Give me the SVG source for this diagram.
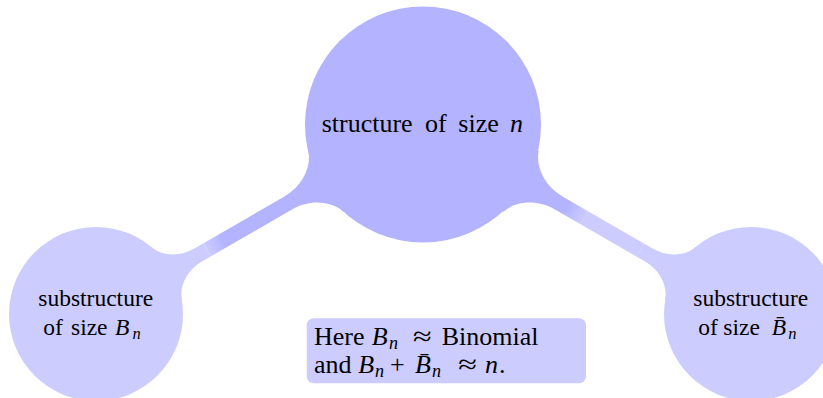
<svg xmlns="http://www.w3.org/2000/svg" width="823" height="398" viewBox="0 0 823 398">
<style>
.txt{font-family:"Liberation Serif","Times New Roman",serif;fill:#000}
.big{font-size:26px}
.mid{font-size:23.5px}
.sub{font-size:18px}
.subs{font-size:16.5px}
.it{font-style:italic}
.parent{fill:#b3b3ff}
.child{fill:#ccccff}
</style>
<defs>
<linearGradient id="gl" gradientUnits="userSpaceOnUse" x1="128" y1="0" x2="148" y2="0">
<stop offset="0" stop-color="#ccccff"/><stop offset="1" stop-color="#b3b3ff"/>
</linearGradient>
<linearGradient id="gr" gradientUnits="userSpaceOnUse" x1="192" y1="0" x2="214" y2="0">
<stop offset="0" stop-color="#ccccff"/><stop offset="1" stop-color="#b3b3ff"/>
</linearGradient>
</defs>
<rect width="823" height="398" fill="#fff"/>
<g id="connectors">
<g id="conn-left" transform="translate(96,314) rotate(-30)">
<path class="child" d="M60,-30 L81.7,-30 C86.5,-16.9 101,-7.5 118,-7.5 L128,-7.5 L128,7.5 L118,7.5 C101,7.5 86.5,16.9 81.7,30 L60,30 Z"/>
<path fill="url(#gl)" d="M128,-7.5 L222,-7.5 C244,-7.5 261,-21 265.3,-35 L300,-35 L300,35 L265.3,35 C261,21 244,7.5 222,7.5 L128,7.5 Z"/>
</g>
<g id="conn-right" transform="translate(751,314) rotate(-150)">
<path class="child" d="M60,-30 L81.7,-30 C86.5,-16.9 101,-7.5 118,-7.5 L128,-7.5 L128,7.5 L118,7.5 C101,7.5 86.5,16.9 81.7,30 L60,30 Z"/>
<path fill="url(#gr)" d="M128,-7.5 L222,-7.5 C244,-7.5 261,-21 265.3,-35 L300,-35 L300,35 L265.3,35 C261,21 244,7.5 222,7.5 L128,7.5 Z"/>
</g>
</g>
<g id="node-root">
<circle class="parent" cx="423" cy="124.5" r="118"/>
<text class="txt big" y="132"><tspan x="321.7">structure</tspan><tspan x="425">of</tspan><tspan x="458.3">size</tspan><tspan class="it" x="510">n</tspan></text>
</g>
<g id="node-left">
<circle class="child" cx="96" cy="314" r="87"/>
<text class="txt mid" x="38.3" y="306">substructure</text>
<text class="txt mid" y="335"><tspan x="43.3">of</tspan><tspan x="71">size</tspan><tspan class="it" x="115">B</tspan></text>
<text class="txt subs it" x="132.5" y="339">n</text>
</g>
<g id="node-right">
<circle class="child" cx="751" cy="314" r="87"/>
<text class="txt mid" x="693.3" y="306">substructure</text>
<text class="txt mid" y="335"><tspan x="698.3">of</tspan><tspan x="723.3">size</tspan><tspan class="it" x="771.7">B&#x304;</tspan></text>
<text class="txt subs it" x="788.3" y="339">n</text>
</g>
<g id="note">
<rect class="child" x="306.7" y="318.3" width="279.3" height="65" rx="7"/>
<text class="txt big" y="345"><tspan x="314">Here</tspan><tspan class="it" x="371.7">B</tspan></text>
<text class="txt sub it" x="389" y="349">n</text>
<text class="txt big" x="413" y="345" textLength="18.7" lengthAdjust="spacingAndGlyphs">≈</text>
<text class="txt big" x="441.7" y="345">Binomial</text>
<text class="txt big" y="373.3"><tspan x="314">and</tspan><tspan class="it" x="358.3">B</tspan></text>
<text class="txt sub it" x="375" y="377.3">n</text>
<text class="txt big" x="390" y="373.3">+</text>
<text class="txt big it" x="415" y="373.3">B&#x304;</text>
<text class="txt sub it" x="432" y="377.3">n</text>
<text class="txt big" x="458.3" y="373.3" textLength="18.7" lengthAdjust="spacingAndGlyphs">≈</text>
<text class="txt big" y="373.3"><tspan class="it" x="485">n</tspan><tspan x="499">.</tspan></text>
</g>
</svg>
